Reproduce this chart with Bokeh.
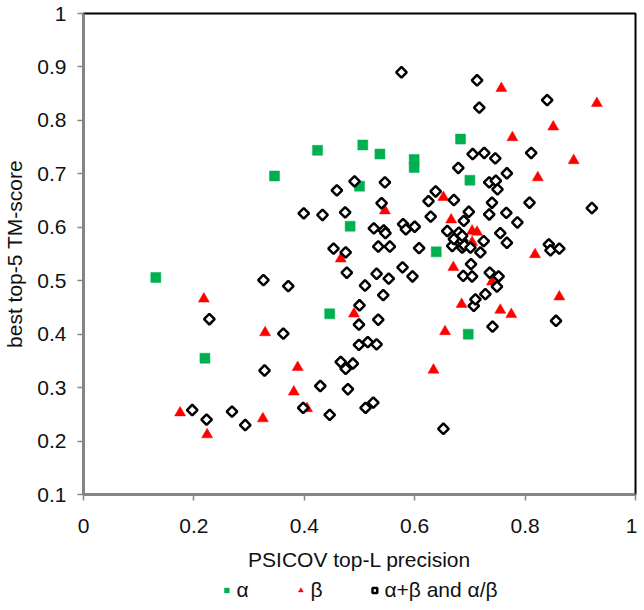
from bokeh.plotting import figure
from bokeh.layouts import column
from bokeh.models import Range1d, FixedTicker, NumeralTickFormatter, Legend, LegendItem
from bokeh.embed import file_html
from bokeh.resources import INLINE
import numpy as np

# alpha class (green squares)
alpha_x = [0.131, 0.220, 0.346, 0.424, 0.446, 0.483, 0.500, 0.506, 0.537, 0.599, 0.599, 0.639, 0.683, 0.697, 0.700]
alpha_y = [0.506, 0.355, 0.696, 0.744, 0.438, 0.602, 0.677, 0.754, 0.737, 0.727, 0.712, 0.554, 0.765, 0.400, 0.688]

# beta class (red triangles)
beta_x = [0.175, 0.218, 0.224, 0.325, 0.329, 0.381, 0.388, 0.405, 0.466, 0.490, 0.546, 0.634, 0.652, 0.655,
          0.666, 0.670, 0.685, 0.704, 0.713, 0.704, 0.740, 0.755, 0.757, 0.775, 0.777, 0.818, 0.823, 0.851,
          0.862, 0.888, 0.930]
beta_y = [0.253, 0.466, 0.212, 0.242, 0.403, 0.292, 0.338, 0.261, 0.541, 0.438, 0.631, 0.333, 0.656, 0.405,
          0.614, 0.525, 0.456, 0.593, 0.591, 0.572, 0.498, 0.445, 0.860, 0.437, 0.768, 0.549, 0.693, 0.788,
          0.470, 0.725, 0.832]

# alpha+beta and alpha/beta classes (open diamonds)
mixed_x = [0.197, 0.223, 0.228, 0.269, 0.293, 0.326, 0.328, 0.362, 0.371, 0.398, 0.399, 0.429, 0.433, 0.446,
           0.453, 0.459, 0.466, 0.474, 0.475, 0.475, 0.477, 0.479, 0.488, 0.491, 0.499, 0.499, 0.500, 0.510,
           0.511, 0.515, 0.525, 0.526, 0.531, 0.531, 0.534, 0.534, 0.540, 0.543, 0.544, 0.547, 0.546, 0.553,
           0.555, 0.576, 0.578, 0.579, 0.584, 0.596, 0.600, 0.608, 0.625, 0.629, 0.638, 0.652, 0.659, 0.668,
           0.671, 0.671, 0.679, 0.680, 0.686, 0.686, 0.686, 0.688, 0.689, 0.690, 0.698, 0.701, 0.702, 0.704,
           0.705, 0.707, 0.710, 0.713, 0.717, 0.719, 0.725, 0.726, 0.728, 0.735, 0.735, 0.736, 0.740, 0.741,
           0.746, 0.747, 0.749, 0.750, 0.752, 0.755, 0.766, 0.767, 0.767, 0.786, 0.808, 0.811, 0.840, 0.843,
           0.846, 0.856, 0.862, 0.921]
mixed_y = [0.258, 0.240, 0.428, 0.255, 0.230, 0.501, 0.332, 0.401, 0.490, 0.262, 0.626, 0.303, 0.623, 0.249,
           0.560, 0.669, 0.348, 0.628, 0.553, 0.335, 0.515, 0.297, 0.345, 0.686, 0.380, 0.418, 0.454, 0.491,
           0.262, 0.385, 0.272, 0.598, 0.513, 0.381, 0.564, 0.427, 0.645, 0.473, 0.594, 0.589, 0.684, 0.504,
           0.564, 0.890, 0.525, 0.606, 0.596, 0.508, 0.601, 0.561, 0.649, 0.620, 0.667, 0.223, 0.593, 0.565,
           0.651, 0.578, 0.711, 0.590, 0.574, 0.562, 0.584, 0.509, 0.612, 0.566, 0.629, 0.562, 0.531, 0.508,
           0.737, 0.453, 0.465, 0.875, 0.824, 0.553, 0.574, 0.739, 0.475, 0.684, 0.624, 0.515, 0.646, 0.414,
           0.729, 0.687, 0.489, 0.671, 0.508, 0.589, 0.627, 0.701, 0.571, 0.609, 0.646, 0.739, 0.838, 0.568,
           0.557, 0.425, 0.560, 0.636]

x_ticks = [0, 0.2, 0.4, 0.6, 0.8, 1.0]
y_ticks = [0.1, 0.2, 0.3, 0.4, 0.5, 0.6, 0.7, 0.8, 0.9, 1.0]
labels = ["α", "β", "α+β and α/β"]

FONT = "Liberation Sans"
GRAY = "#868686"
FS = "21px"
GREEN = "#00B050"
RED = "#FF0000"

p = figure(width=637, height=578, output_backend="svg", toolbar_location=None,
           x_range=Range1d(0, 1), y_range=Range1d(0.1, 1),
           min_border_left=82, min_border_right=2, min_border_top=13, min_border_bottom=84,
           background_fill_color="white", border_fill_color="white")
p.grid.visible = False
p.outline_line_color = "black"
p.outline_line_width = 2

for ax, ticks in ((p.xaxis[0], x_ticks), (p.yaxis[0], y_ticks)):
    ax.ticker = FixedTicker(ticks=ticks)
    ax.formatter = NumeralTickFormatter(format="0.[0]")
    ax.axis_line_color = GRAY
    ax.axis_line_width = 2.5
    ax.major_tick_line_color = GRAY
    ax.major_tick_line_width = 1.5
    ax.major_tick_out = 6
    ax.major_tick_in = 0
    ax.minor_tick_line_color = None
    ax.major_label_text_font = FONT
    ax.major_label_text_font_size = FS
    ax.major_label_text_color = "#111111"
    ax.axis_label_text_font = FONT
    ax.axis_label_text_font_size = FS
    ax.axis_label_text_font_style = "normal"
    ax.axis_label_text_color = "#111111"

p.xaxis.axis_label = "PSICOV top-L precision"
p.yaxis.axis_label = "best top-5 TM-score"
p.xaxis.major_label_standoff = 18
p.xaxis.axis_label_standoff = 12
p.yaxis.major_label_standoff = 11
p.yaxis.axis_label_standoff = 8

styles = [dict(marker="square", size=10, fill_color=GREEN, line_color=GREEN, line_width=0.5),
          dict(marker="triangle", size=11, fill_color=RED, line_color=RED, line_width=0.5),
          dict(marker="square", size=7.5, angle=np.pi / 4, fill_color="white", line_color="black", line_width=2.5)]
series = [(alpha_x, alpha_y), (beta_x, beta_y), (mixed_x, mixed_y)]

for (sx, sy), st in zip(series, styles):
    p.scatter(sx, sy, **st)

# legend strip below the chart: same series, but its y range lies outside the data,
# so only the legend glyphs and labels are visible
lg = figure(width=637, height=32, output_backend="svg", toolbar_location=None,
            x_range=Range1d(0, 1), y_range=Range1d(10, 11),
            min_border_left=78, min_border_right=0, min_border_top=0, min_border_bottom=0,
            background_fill_color="white", border_fill_color="white")
lg.axis.visible = False
lg.grid.visible = False
lg.outline_line_color = None
leg_renderers = [lg.scatter(sx, sy, **st) for (sx, sy), st in zip(series, styles)]

legend = Legend(items=[LegendItem(label=lab, renderers=[r]) for lab, r in zip(labels, leg_renderers)],
                orientation="horizontal", location="top_center",
                label_text_font=FONT, label_text_font_size=FS, label_text_color="#111111",
                glyph_width=12, glyph_height=16, label_standoff=4, spacing=38,
                padding=0, margin=0, border_line_color=None, background_fill_alpha=0)
lg.add_layout(legend, "center")

layout = column(p, lg, spacing=0)
open("out.html", "w").write(file_html(layout, INLINE))
